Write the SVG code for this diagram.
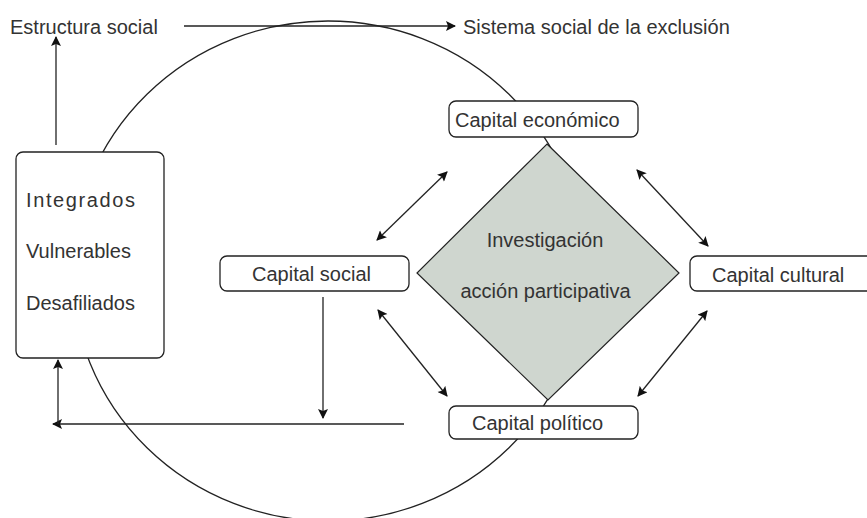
<svg xmlns="http://www.w3.org/2000/svg" width="867" height="518" viewBox="0 0 867 518">
<style>
.t{font-family:"Liberation Sans",Arial,sans-serif;font-size:20px;fill:#333}
.box{fill:#fff;stroke:#222;stroke-width:1.3}
.ln{fill:none;stroke:#222;stroke-width:1.3}
</style>
<defs>
<marker id="ah" viewBox="0 0 10 10" refX="9" refY="5" markerWidth="11" markerHeight="10" markerUnits="userSpaceOnUse" orient="auto-start-reverse">
<path d="M0,0 L10,5 L0,10 L2,5 z" fill="#111"/>
</marker>
</defs>
<rect width="867" height="518" fill="#fff"/>
<ellipse cx="328" cy="271" rx="256" ry="250" class="ln"/>
<g id="connectors">
<line x1="184" y1="26" x2="455" y2="26" class="ln" marker-end="url(#ah)"/>
<line x1="56" y1="145" x2="56" y2="37" class="ln" marker-end="url(#ah)"/>
<line x1="323" y1="297" x2="323" y2="418" class="ln" marker-end="url(#ah)"/>
<line x1="404" y1="424" x2="53" y2="424" class="ln" marker-end="url(#ah)"/>
<line x1="58" y1="424" x2="58" y2="360" class="ln" marker-end="url(#ah)"/>
<line x1="377" y1="240" x2="447" y2="172" class="ln" marker-start="url(#ah)" marker-end="url(#ah)"/>
<line x1="637" y1="170" x2="708" y2="246" class="ln" marker-start="url(#ah)" marker-end="url(#ah)"/>
<line x1="707" y1="311" x2="638" y2="396" class="ln" marker-start="url(#ah)" marker-end="url(#ah)"/>
<line x1="378" y1="310" x2="447" y2="396" class="ln" marker-start="url(#ah)" marker-end="url(#ah)"/>
</g>
<g id="estructura">
<text class="t" x="10" y="34">Estructura social</text>
</g>
<g id="sistema">
<text class="t" x="463" y="34">Sistema social de la exclusión</text>
</g>
<g id="grupos">
<rect class="box" x="16" y="152" width="148" height="206" rx="7"/>
<text class="t" x="26" y="207" letter-spacing="1.6">Integrados</text>
<text class="t" x="26" y="258">Vulnerables</text>
<text class="t" x="26" y="310">Desafiliados</text>
</g>
<g id="iap">
<polygon points="547,144 679,273 548,400 417,273" fill="#cfd6cf" stroke="#222" stroke-width="1.2"/>
<text class="t" x="545" y="247" text-anchor="middle">Investigación</text>
<text class="t" x="545.5" y="298" text-anchor="middle">acción participativa</text>
</g>
<g id="economico">
<rect class="box" x="449" y="101" width="189" height="36" rx="7"/>
<text class="t" x="455" y="127">Capital económico</text>
</g>
<g id="social">
<rect class="box" x="220" y="256" width="189" height="35" rx="7"/>
<text class="t" x="252" y="281">Capital social</text>
</g>
<g id="cultural">
<rect class="box" x="690" y="256" width="190" height="35" rx="7"/>
<text class="t" x="712" y="282">Capital cultural</text>
</g>
<g id="politico">
<rect class="box" x="449" y="406" width="189" height="33" rx="7"/>
<text class="t" x="472" y="430">Capital político</text>
</g>
</svg>
